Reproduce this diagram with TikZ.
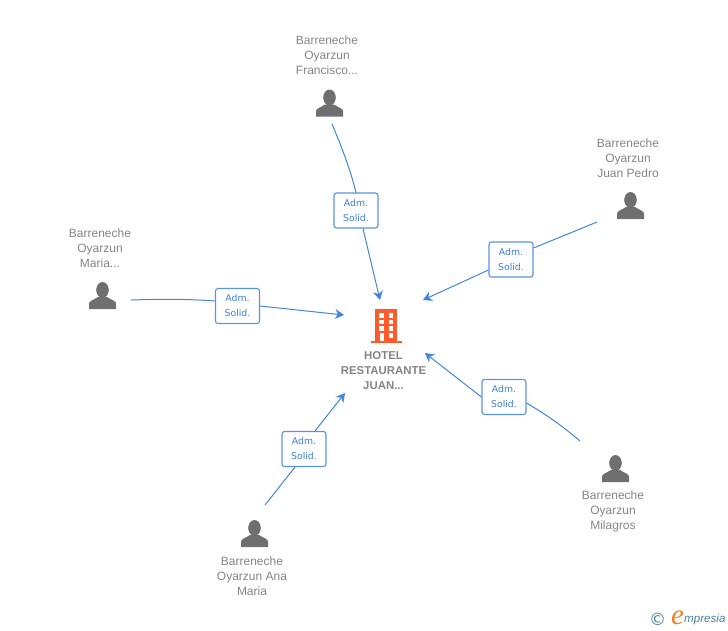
\documentclass[tikz,border=0pt]{standalone}
\usepackage{fontspec}
\setmainfont{Liberation Sans}
\newfontfamily\admfont{DejaVu Sans}
\newfontfamily\logofont{Liberation Serif}
\usetikzlibrary{arrows.meta}
\definecolor{linkblue}{HTML}{4285E0}
\definecolor{boxblue}{HTML}{5B93E3}
\definecolor{admtext}{HTML}{3B7FD9}
\definecolor{nametext}{HTML}{858585}
\definecolor{icongray}{HTML}{6F6F6F}
\definecolor{hotelorange}{HTML}{FF5A2B}
\definecolor{logoteal}{HTML}{4A8098}
\definecolor{logoorange}{HTML}{F08020}
\tikzset{
  x=1pt,y=-1pt,
  personname/.style={text=nametext,align=center,inner sep=0pt,font=\fontsize{12}{15}\selectfont},
  hotelname/.style={text=nametext,align=center,inner sep=0pt,font=\fontsize{11.4}{15}\selectfont\bfseries},
  admbox/.style={draw=boxblue,line width=1.1pt,rounded corners=2.5pt,fill=white,text=admtext,
    minimum width=44pt,minimum height=35pt,inner sep=0pt,align=center,
    font=\admfont\fontsize{9.3}{15}\selectfont},
  link/.style={draw=linkblue,line width=1pt},
  linkarrow/.style={link,-{Stealth[length=9pt,width=10pt,inset=3pt]}},
  person/.pic={
    \fill[icongray] (0,-5.5) ellipse[x radius=6.3,y radius=8];
    \fill[icongray] (-13.5,13.5) -- (-13.5,8) .. controls (-13.5,5.5) and (-9,4.5) .. (-4.5,1.5)
      -- (4.5,1.5) .. controls (9,4.5) and (13.5,5.5) .. (13.5,8) -- (13.5,13.5) -- cycle;
  }
}
\begin{document}
\begin{tikzpicture}
\useasboundingbox (0,0) rectangle (728,630);
% hotel icon
\fill[hotelorange] (375,309) rectangle (397,341);
\fill[hotelorange] (370.5,340.5) rectangle (402,343);
\foreach \yy in {313,319.5,326} {
  \fill[white] (379,\yy) rectangle (383.5,\yy+4.5);
  \fill[white] (388.5,\yy) rectangle (393,\yy+4.5);
}
\fill[white] (388.5,333) rectangle (393,337.5);
\fill[white] (379.5,333) rectangle (383.5,340.5);
\node[hotelname] (hotel) at (383.5,370.5) {HOTEL\\RESTAURANTE\\JUAN...};
% persons
\pic at (329.5,103) {person};
\pic at (630.5,205.5) {person};
\pic at (102.5,295.5) {person};
\pic at (615.5,468.5) {person};
\pic at (254.5,533.5) {person};
\node[personname] (francisco) at (327,55) {Barreneche\\Oyarzun\\Francisco...};
\node[personname] (juanpedro) at (628,158) {Barreneche\\Oyarzun\\Juan Pedro};
\node[personname] (maria) at (100,248) {Barreneche\\Oyarzun\\Maria...};
\node[personname] (milagros) at (613,511) {Barreneche\\Oyarzun\\Milagros};
\node[personname] (anamaria) at (252,576) {Barreneche\\Oyarzun Ana\\Maria};
% connector ends
\coordinate (s1) at (332,124);
\coordinate (t1) at (380,300);
\coordinate (s2) at (597,222);
\coordinate (t2) at (423,300);
\coordinate (s3) at (131,300);
\coordinate (t3) at (344,315);
\coordinate (s4) at (580,441);
\coordinate (t4) at (425,353);
\coordinate (s5) at (265,505);
\coordinate (t5) at (345,393);
% label boxes
\node[admbox] (a1) at (356,210.5) {Adm.\\Solid.};
\node[admbox] (a2) at (511,259.5) {Adm.\\Solid.};
\node[admbox] (a3) at (237.5,306) {Adm.\\Solid.};
\node[admbox] (a4) at (504,397) {Adm.\\Solid.};
\node[admbox] (a5) at (304,449) {Adm.\\Solid.};
% connectors
\draw[link] (s1) .. controls (343,150) and (351,172) .. (a1.north);
\draw[linkarrow] ([xshift=7pt]a1.south) -- (t1);
\draw[link] (s2) -- ([yshift=11.5pt]a2.east);
\draw[linkarrow] ([yshift=-10.5pt]a2.west) -- (t2);
\draw[link] (s3) .. controls (160,299) and (190,299) .. ([yshift=5pt]a3.west);
\draw[linkarrow] (a3.east) -- (t3);
\draw[link] (s4) .. controls (560,424) and (545,414) .. ([yshift=-6pt]a4.east);
\draw[linkarrow] (a4.west) -- (t4);
\draw[link] (s5) -- ([xshift=-9pt]a5.south);
\draw[linkarrow] ([xshift=11pt]a5.north) -- (t5);
% logo
\node[inner sep=0pt,text=logoteal,font=\admfont\fontsize{17}{17}\selectfont] (copyr) at (657.5,619) {©};
\node[inner sep=0pt,text=logoorange,font=\logofont\itshape\fontsize{29}{29}\selectfont] (logoe) at (677.5,618) {e};
\node[inner sep=0pt,anchor=west,text=logoteal,font=\itshape\fontsize{11.6}{14}\selectfont] (logotext) at (684,619) {mpresia};
\end{tikzpicture}
\end{document}
